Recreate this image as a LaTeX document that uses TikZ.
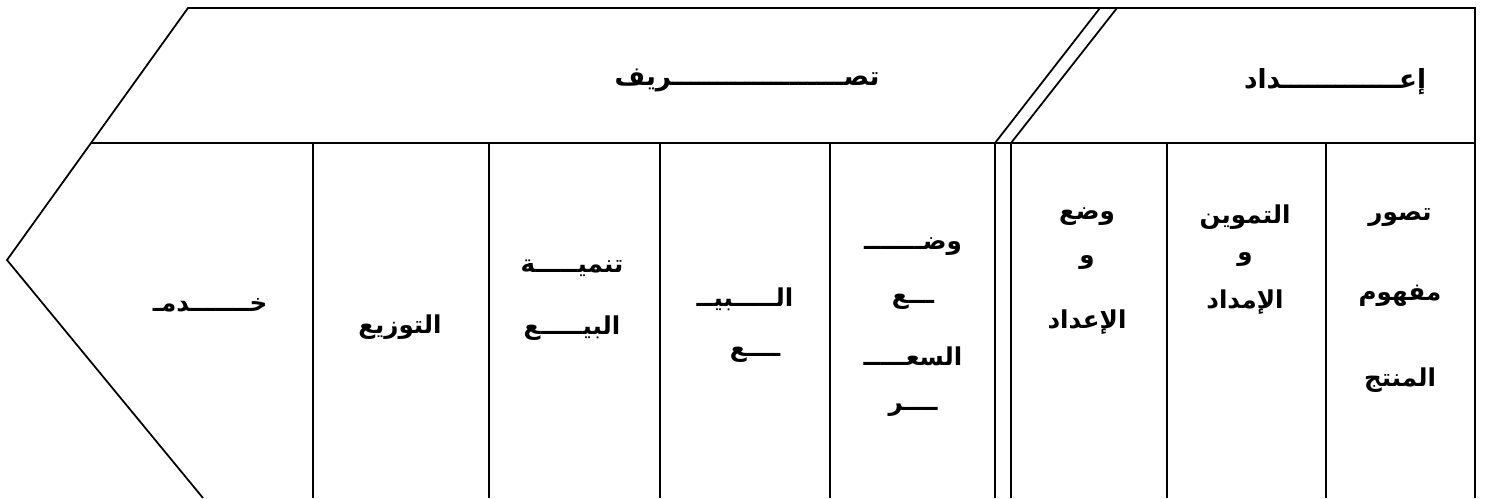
\documentclass[tikz,border=0pt]{standalone}
\usepackage{fontspec}
\usepackage{tikz}
\TeXXeTstate=1
\newfontfamily\arabicfont[Script=Arabic]{DejaVu Sans}
\newcommand{\artxt}[1]{\beginR #1\endR}
\tikzset{
  lbl/.style={font=\arabicfont\bfseries\fontsize{14}{17}\selectfont, inner sep=0pt},
  titre/.style={font=\arabicfont\bfseries\fontsize{15}{18}\selectfont, inner sep=0pt}
}

\begin{document}
\begin{tikzpicture}[x=0.2mm, y=-0.2mm, line width=1pt]
\useasboundingbox (0,0) rectangle (1485,498);

% Contour : chevron a gauche, bord droit
\draw (1475,498) -- (1475,8) -- (188,8) -- (7,260) -- (203,498);

% Ligne horizontale du milieu
\draw (91,143) -- (1475,143);

% Double separation (diagonale en haut, verticale en bas)
\draw (1100,8) -- (995,143) -- (995,498);
\draw (1117,8) -- (1011,143) -- (1011,498);

% Colonnes du bas
\draw (313,143) -- (313,498);
\draw (489,143) -- (489,498);
\draw (660,143) -- (660,498);
\draw (830,143) -- (830,498);
\draw (1167,143) -- (1167,498);
\draw (1326,143) -- (1326,498);

% Titres
\node[titre] (tasrif) at (747,80) {\artxt{تصـــــــــــــــــــريف}};
\node[titre] (iidad) at (1335,82) {\artxt{إعـــــــــــــداد}};

% Colonne 1
\node[lbl] (c1a) at (1400,217) {\artxt{تصور}};
\node[lbl] (c1b) at (1400,296) {\artxt{مفهوم}};
\node[lbl] (c1c) at (1400,380) {\artxt{المنتج}};

% Colonne 2
\node[lbl] (c2a) at (1245,217) {\artxt{التموين}};
\node[lbl] (c2b) at (1245,260) {\artxt{و}};
\node[lbl] (c2c) at (1245,302) {\artxt{الإمداد}};

% Colonne 3
\node[lbl] (c3a) at (1087,217) {\artxt{وضع}};
\node[lbl] (c3b) at (1087,263) {\artxt{و}};
\node[lbl] (c3c) at (1087,322) {\artxt{الإعداد}};

% Colonne 4
\node[lbl] (c4a) at (913,247) {\artxt{وضـــــــ}};
\node[lbl] (c4b) at (913,302) {\artxt{ـــع}};
\node[lbl] (c4c) at (913,356) {\artxt{السعـــــ}};
\node[lbl] (c4d) at (913,410) {\artxt{ــــر}};

% Colonne 5
\node[lbl] (c5a) at (745,299) {\artxt{الـــــبيــ}};
\node[lbl] (c5b) at (755,355) {\artxt{ــــع}};

% Colonne 6
\node[lbl] (c6a) at (572,268) {\artxt{تنميـــــة}};
\node[lbl] (c6b) at (572,328) {\artxt{البيـــــع}};

% Colonne 7
\node[lbl] (c7) at (400,327) {\artxt{التوزيع}};

% Chevron
\node[lbl] (c8) at (210,305) {\artxt{خـــــــدمـ}};

\end{tikzpicture}
\end{document}
